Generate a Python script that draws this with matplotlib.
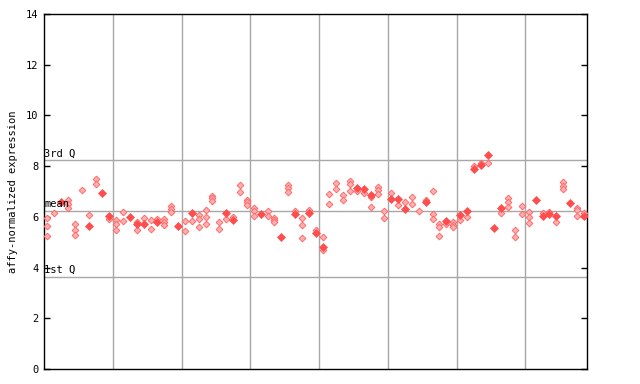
import matplotlib
matplotlib.use("Agg")
import matplotlib.pyplot as plt

# replicate values per sample (open/dithered diamonds and solid diamonds)
open_vals = [
    [5.97, 5.64, 5.24], [6.14], [], [6.66, 6.5, 6.34], [5.71, 5.48, 5.28],
    [7.06], [6.07], [7.48, 7.30], [], [5.91],
    [5.88, 5.71, 5.48], [6.18, 5.84], [], [5.81, 5.48], [5.97],
    [5.88, 5.51], [5.90], [5.91, 5.81, 5.68], [6.43, 6.3, 6.18], [],
    [5.84, 5.46], [5.84], [6.07, 5.9, 5.59], [6.27, 5.98, 5.70], [6.83, 6.73, 6.62],
    [5.78, 5.51], [5.93], [5.98], [7.26, 6.99], [6.68, 6.58, 6.48],
    [6.35, 6.25, 6.03], [], [6.23, 6.05], [5.96, 5.88, 5.81], [],
    [7.25, 7.12, 7.0], [6.24], [5.94, 5.66, 5.15], [6.27], [5.48],
    [5.19, 4.68], [6.89, 6.49], [7.32, 7.11], [6.85, 6.66], [7.41, 7.30, 7.02],
    [7.02], [6.93], [6.77, 6.38], [7.19, 7.06, 6.89], [6.23, 5.94],
    [6.93], [6.47], [6.60], [6.80, 6.49], [6.23],
    [6.66], [7.02, 6.10, 5.91], [5.71, 5.61, 5.26], [5.71], [5.78, 5.68, 5.61],
    [5.88], [5.98], [8.02], [8.11], [8.11],
    [], [6.16], [6.73, 6.57, 6.40], [5.48, 5.19], [6.44, 6.10],
    [6.20, 5.98, 5.77], [], [6.14], [6.20], [5.81],
    [7.36, 7.23, 7.10], [], [6.36, 6.27, 6.03], [6.14],
]
solid_vals = [
    [], [], [6.57], [], [],
    [], [5.65], [], [6.93], [6.05],
    [], [], [5.98], [5.71], [5.71],
    [], [5.81], [], [], [5.62],
    [], [6.14], [], [], [],
    [], [6.16], [5.88], [], [],
    [], [6.11], [], [], [5.22],
    [], [6.13], [], [6.14], [5.38],
    [4.8], [], [], [], [],
    [7.12], [7.10], [6.86], [], [],
    [6.70], [6.70], [6.31], [], [],
    [6.57], [], [], [5.84], [],
    [6.07], [6.24], [7.89], [8.04], [8.44],
    [5.57], [6.34], [], [], [],
    [], [6.66], [6.03], [6.11], [6.04],
    [], [6.53], [], [6.03],
]
q3_value = 8.23
mean_value = 6.23
q1_value = 3.63
y_ticks = [0, 2, 4, 6, 8, 10, 12, 14]
group_size = 10

n = len(open_vals)
ox, oy, sx, sy = [], [], [], []
for i in range(n):
    for v in open_vals[i]:
        ox.append(i); oy.append(v)
    for v in solid_vals[i]:
        sx.append(i); sy.append(v)

plt.rcParams['font.family'] = ['DejaVu Sans Mono']
fig = plt.figure(figsize=(6.4, 3.84), dpi=100)
ax = fig.add_axes([44/640, 15/384, (587.3-44)/640, (369-14)/384])

grid_c = '#a8a8a8'
for y in (q3_value, mean_value, q1_value):
    ax.axhline(y, color=grid_c, lw=1.0, zorder=1)
for k in range(group_size, n, group_size):
    ax.axvline(k - 0.5, color=grid_c, lw=1.0, zorder=1)

ax.plot(ox, oy, linestyle='none', marker='D', markersize=3.4,
        markerfacecolor='#ffb0b0', markeredgecolor='#ff6a6a', markeredgewidth=0.7, zorder=3)
ax.plot(sx, sy, linestyle='none', marker='D', markersize=3.6,
        markerfacecolor='#ff4d4d', markeredgecolor='#ff4d4d', markeredgewidth=0.5, zorder=4)

ax.set_xlim(-0.5, n - 0.5)
ax.set_ylim(0, 14)
ax.set_yticks(y_ticks)
ax.set_yticklabels([str(t) for t in y_ticks], fontsize=7.5)
ax.set_xticks([])
ax.tick_params(axis='y', direction='in', length=4, width=1, right=True, left=True, pad=4)
for s in ax.spines.values():
    s.set_linewidth(1.0)
    s.set_color('black')

ax.set_ylabel('affy-normalized expression', fontsize=7.5, labelpad=6)

tx = -0.45
ax.text(tx, q3_value + 0.08, '3rd Q', fontsize=7.5, va='bottom', ha='left', zorder=5)
ax.text(tx, mean_value + 0.08, 'mean', fontsize=7.5, va='bottom', ha='left', zorder=5)
ax.text(tx, q1_value + 0.08, '1st Q', fontsize=7.5, va='bottom', ha='left', zorder=5)

fig.savefig('out.png', dpi=100)
